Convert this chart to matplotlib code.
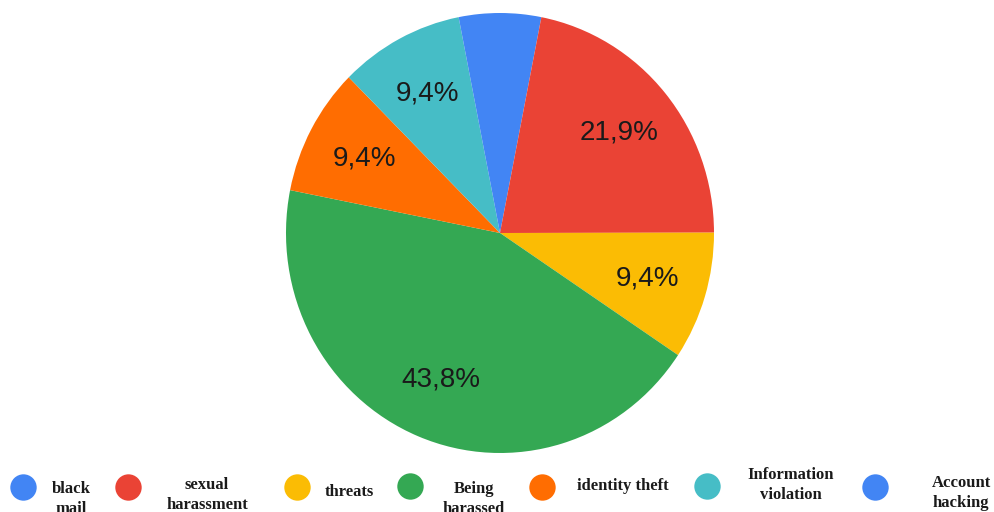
import matplotlib
matplotlib.use("Agg")
import matplotlib.pyplot as plt

# Survey answers: share of respondents per type of online abuse (%)
categories = ["black mail", "sexual harassment", "threats", "Being harassed",
              "identity theft", "Information violation", "Account hacking"]
shares = [3.1, 21.9, 9.4, 43.8, 9.4, 9.4, 3.1]
colors = ["#4285F4", "#EA4335", "#FBBC04", "#34A853", "#FF6D01", "#46BDC6", "#4285F4"]

# Legend entries as they are wrapped under the chart
legend_text = ["black\nmail", "sexual\nharassment", "threats", "Being\nharassed",
               "identity theft", "Information\nviolation", "Account\nhacking"]

W, H = 994, 512
fig = plt.figure(figsize=(W / 100, H / 100), dpi=100)
fig.patch.set_facecolor("white")

# Pie area: centre (500, 233) px, radii 214 px across and 220 px down
cx, cy, rx, ry = 500, 233, 214, 220
ax = fig.add_axes([(cx - rx) / W, (H - cy - ry) / H, 2 * rx / W, 2 * ry / H])


def pct_label(p):
    if p < 5:
        return ""
    return f"{p:.1f}".replace(".", ",") + "%"


wedges, _, autotexts = ax.pie(
    shares, colors=colors, startangle=90, counterclock=False,
    autopct=pct_label, pctdistance=0.72, radius=1.0,
    wedgeprops=dict(linewidth=0),
    textprops=dict(fontsize=20, color="#1a1a1a", family="Liberation Sans"),
)
ax.set_xlim(-1, 1)
ax.set_ylim(-1, 1)
ax.set_aspect("auto")
ax.axis("off")

# Legend drawn in pixel coordinates along the bottom
lax = fig.add_axes([0, 0, 1, 1], zorder=5)
lax.set_xlim(0, W)
lax.set_ylim(H, 0)
lax.axis("off")
lax.patch.set_alpha(0)

marker_x = [23, 128, 297, 410, 542, 707, 875]
marker_y = [487, 487, 487, 486, 487, 486, 487]
text_x = [71, 207, 349, 474, 623, 791, 961]
text_y = [499, 495, 492, 499, 486, 485, 493]

for mx, my, c in zip(marker_x, marker_y, colors):
    lax.plot(mx, my, "o", ms=19, color=c, mec="none")
for tx, ty, t in zip(text_x, text_y, legend_text):
    lax.text(tx, ty, t, ha="center", va="center", fontsize=12,
             fontweight="bold", family="Liberation Serif", color="#1a1a1a",
             linespacing=1.3)

fig.savefig("out.png", dpi=100, facecolor="white")
